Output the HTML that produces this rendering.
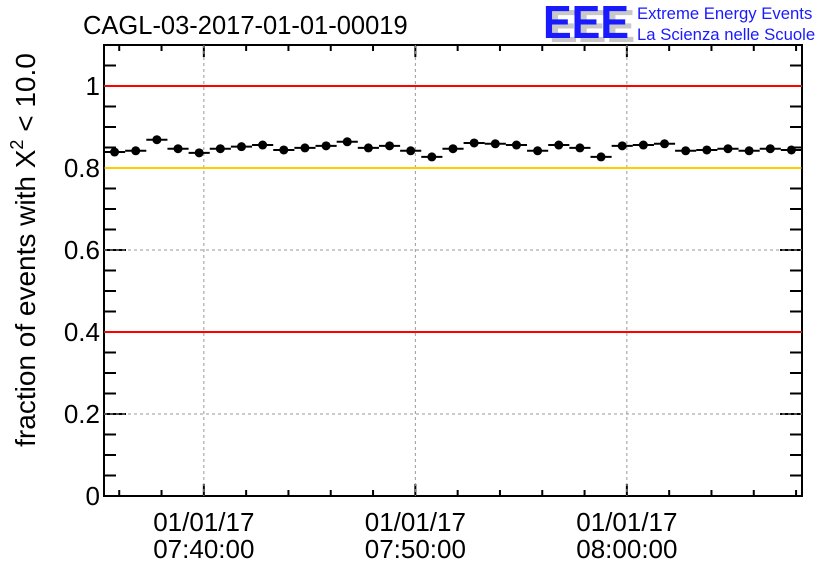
<!DOCTYPE html>
<html><head><meta charset="utf-8"><style>
body{margin:0;background:#fff;width:836px;height:572px;overflow:hidden;font-family:"Liberation Sans",sans-serif}
</style></head><body>
<svg id="c" width="836" height="572" font-family="Liberation Sans, sans-serif">
<text x="83" y="34" font-size="25.5">CAGL-03-2017-01-01-00019</text>
<g>
<text x="549" y="42" font-size="46" font-weight="bold" fill="#c8c8c8" textLength="86" lengthAdjust="spacingAndGlyphs">EEE</text>
<text x="543" y="38" font-size="46" font-weight="bold" fill="#1a1aff" textLength="86" lengthAdjust="spacingAndGlyphs">EEE</text>
<text x="637" y="19" font-size="16.7" fill="#1a1aff">Extreme Energy Events</text>
<text x="637" y="40" font-size="16.7" fill="#1a1aff">La Scienza nelle Scuole</text>
</g>
<text transform="translate(35,250) rotate(-90)" text-anchor="middle" font-size="28">fraction of events with X<tspan dy="-12" font-size="18">2</tspan><tspan dy="12"> &lt; 10.0</tspan></text>
<g id="axes"></g><g id="grid"></g><g id="ref"></g><g id="marks"></g>
</svg>
<script>
const values=[0.839,0.842,0.869,0.847,0.837,0.847,0.852,0.856,0.844,0.849,0.854,0.864,0.849,0.854,0.842,0.827,0.847,0.861,0.859,0.856,0.842,0.856,0.849,0.827,0.854,0.856,0.859,0.842,0.844,0.847,0.842,0.847,0.844];
const yTicks=[0,0.2,0.4,0.6,0.8,1];
const yTickLabels=["0","0.2","0.4","0.6","0.8","1"];
const xMajorMinutes=[0,10,20];
const xTickDates=["01/01/17","01/01/17","01/01/17"];
const xTickTimes=["07:40:00","07:50:00","08:00:00"];
const refLines=[1,0.4];
const warnLines=[0.8];
const NS="http://www.w3.org/2000/svg";
const L=104,R=802,T=45,B=496;
const xMin=-4.72,xMax=xMin+values.length;
const yMin=0,yMax=1.1;
const X=m=>L+(m-xMin)/(xMax-xMin)*(R-L);
const Y=v=>B-(v-yMin)/(yMax-yMin)*(B-T);
function mk(p,tag,a){const e=document.createElementNS(NS,tag);for(const k in a)e.setAttribute(k,a[k]);document.getElementById(p).appendChild(e);return e;}
xMajorMinutes.forEach(m=>{const e=mk('grid','line',{x1:X(m),x2:X(m),y1:T,y2:B,stroke:'#999','stroke-dasharray':'3,3'});

});
yTicks.forEach(v=>{if(v<=0)return;const e=mk('grid','line',{x1:L,x2:R,y1:Y(v),y2:Y(v),stroke:'#999','stroke-dasharray':'3,3'});

});
refLines.forEach(v=>{const e=mk('ref','line',{x1:L+1,x2:R-1,y1:Y(v),y2:Y(v),stroke:'#f00','stroke-width':2});

});
warnLines.forEach(v=>{const e=mk('ref','line',{x1:L+1,x2:R-1,y1:Y(v),y2:Y(v),stroke:'#fc0','stroke-width':2});

});
const f=mk('axes','rect',{x:L,y:T,width:R-L,height:B-T,fill:'none',stroke:'#000','stroke-width':2});


for(let v=0;v<=1.1001;v+=0.05){const maj=Math.abs(v/0.2-Math.round(v/0.2))<1e-6;const len=maj?22:12;
mk('axes','line',{x1:L,x2:L+len,y1:Y(v),y2:Y(v),stroke:'#000','stroke-width':2});
mk('axes','line',{x1:R,x2:R-len,y1:Y(v),y2:Y(v),stroke:'#000','stroke-width':2});}
yTicks.forEach((v,i)=>{const t=mk('axes','text',{x:L-4,y:Y(v)+9,'text-anchor':'end','font-size':26});t.textContent=yTickLabels[i];

});
for(let m=-4;m<=xMax;m+=2){const maj=m%10===0;const len=maj?12:6;
mk('axes','line',{x1:X(m),x2:X(m),y1:B,y2:B-len,stroke:'#000','stroke-width':2});
mk('axes','line',{x1:X(m),x2:X(m),y1:T,y2:T+len,stroke:'#000','stroke-width':2});}
xMajorMinutes.forEach((m,i)=>{const t=mk('axes','text',{x:X(m),y:531,'text-anchor':'middle','font-size':26});t.textContent=xTickDates[i];


const t2=mk('axes','text',{x:X(m),y:558,'text-anchor':'middle','font-size':26});t2.textContent=xTickTimes[i];

});
values.forEach((v,i)=>{const x0=X(xMin+i),x1=X(xMin+i+1),xc=(x0+x1)/2,y=Y(v);
const l=mk('marks','line',{x1:x0,x2:x1,y1:y,y2:y,stroke:'#000','stroke-width':2});


const c=mk('marks','circle',{cx:xc,cy:y,r:4.5,fill:'#000'});

});
</script>
</body></html>
